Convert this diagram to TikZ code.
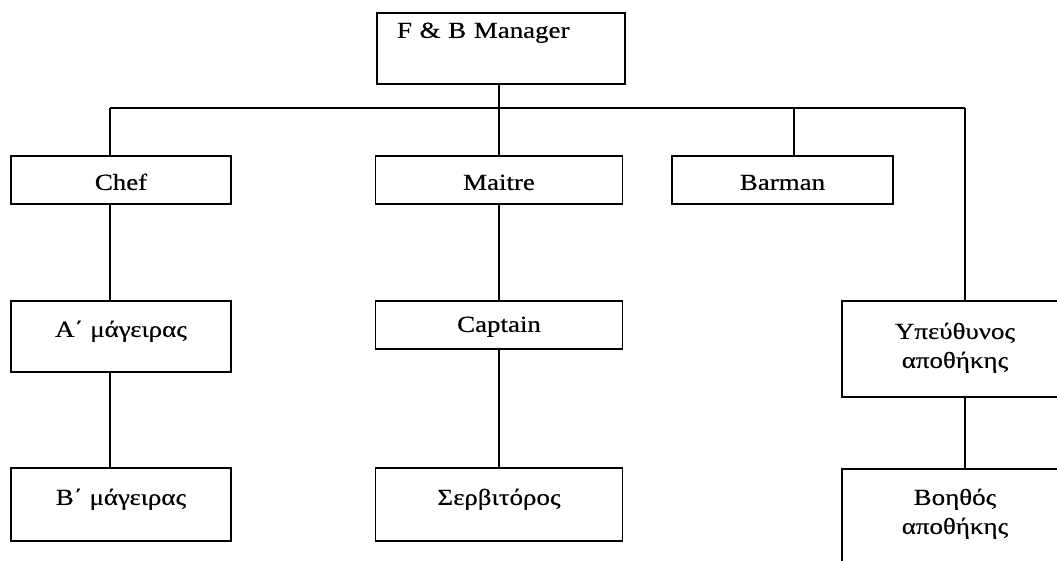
\documentclass[tikz,border=0pt]{standalone}
\usepackage{fontspec}
\setmainfont{Liberation Serif}[FakeStretch=1.17,FakeBold=0.5]
\begin{document}
\begin{tikzpicture}[x=1pt,y=-1pt,
  box/.style={draw, line width=1.8pt, inner sep=0pt, anchor=north,
    font=\fontsize{23}{29}\selectfont},
  link/.style={line width=1.5pt}]
\clip (0,0) rectangle (1057,560);
\useasboundingbox (0,0) rectangle (1057,560);
\fill[white] (0,0) rectangle (1057,560);
% boxes
\node[box, inner xsep=20pt, text width=208pt, align=left, text height=25pt, text depth=46pt] (mgr) at (501,12) {F \& B Manager};
\node[box, minimum width=220pt, text height=34pt, text depth=14pt] (chef) at (121,155) {Chef};
\node[box, minimum width=247pt, text height=34pt, text depth=14pt] (maitre) at (499,155) {Maitre};
\node[box, minimum width=221pt, text height=34pt, text depth=14pt] (barman) at (782.5,155) {Barman};
\node[box, minimum width=220pt, text height=36pt, text depth=35pt] (a1) at (121,300) {Α΄ μάγειρας};
\node[box, minimum width=247pt, text height=31pt, text depth=17pt] (captain) at (499,300) {Captain};
\node[box, minimum width=226pt, text height=67pt, text depth=29pt] (store) at (955,300) {\begin{tabular}[b]{@{}c@{}}Υπεύθυνος\\αποθήκης\end{tabular}};
\node[box, minimum width=220pt, text height=37pt, text depth=36pt] (b1) at (121,467) {Β΄ μάγειρας};
\node[box, minimum width=247pt, text height=37pt, text depth=36pt] (waiter) at (499,467) {Σερβιτόρος};
\node[box, minimum width=226pt, text height=65pt, text depth=87pt] (helper) at (955,468) {\begin{tabular}[b]{@{}c@{}}Βοηθός\\αποθήκης\end{tabular}};
% bus
\coordinate (busL) at (110,108);
\coordinate (busR) at (965,108);
\draw[link] ([xshift=-2pt]mgr.south) -- ([xshift=-2pt]mgr.south |- busL);
\draw[link] (busL) -- (busR);
\draw[link] (busL) -- ([xshift=-11pt]chef.north);
\draw[link] (maitre.north) -- (maitre.north |- busL);
\draw[link] ([xshift=11.5pt]barman.north) -- ([xshift=11.5pt]barman.north |- busL);
\draw[link] (busR) -- ([xshift=10pt]store.north);
% children
\draw[link] ([xshift=-11pt]chef.south) -- ([xshift=-11pt]a1.north);
\draw[link] ([xshift=-11pt]a1.south) -- ([xshift=-11pt]b1.north);
\draw[link] (maitre.south) -- (captain.north);
\draw[link] (captain.south) -- (waiter.north);
\draw[link] ([xshift=10pt]store.south) -- ([xshift=10pt]helper.north);
\end{tikzpicture}
\end{document}
